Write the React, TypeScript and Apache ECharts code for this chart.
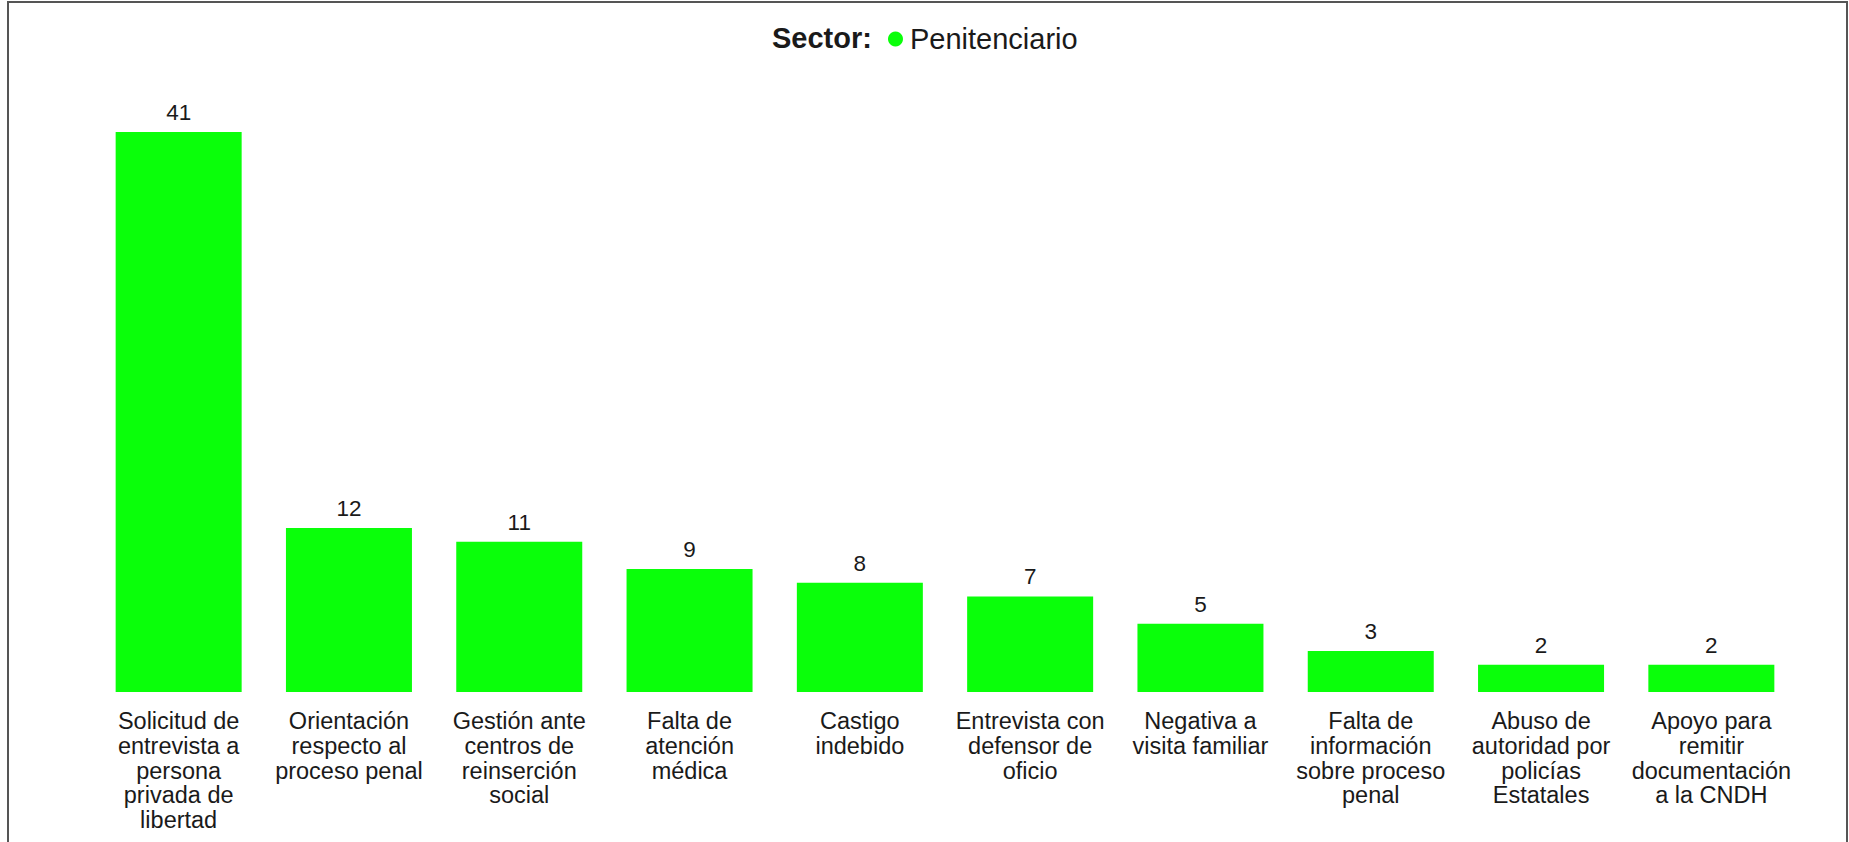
import React, { useEffect, useRef } from "react";
import * as echarts from "echarts";

const categories: string[] = [
  "Solicitud de\nentrevista a\npersona\nprivada de\nlibertad",
  "Orientación\nrespecto al\nproceso penal",
  "Gestión ante\ncentros de\nreinserción\nsocial",
  "Falta de\natención\nmédica",
  "Castigo\nindebido",
  "Entrevista con\ndefensor de\noficio",
  "Negativa a\nvisita familiar",
  "Falta de\ninformación\nsobre proceso\npenal",
  "Abuso de\nautoridad por\npolicías\nEstatales",
  "Apoyo para\nremitir\ndocumentación\na la CNDH",
];

const values: number[] = [41, 12, 11, 9, 8, 7, 5, 3, 2, 2];

const seriesName = "Penitenciario";
const legendTitle = "Sector:";

const FONT = "'Liberation Sans', Arial, Helvetica, sans-serif";
const GREEN = "#0aff0a";
const TEXT = "#1a1a1a";

export default function App() {
  const ref = useRef<HTMLDivElement>(null);

  useEffect(() => {
    if (!ref.current) return;
    const chart = echarts.init(ref.current, undefined, { renderer: "svg" });
    chart.setOption({
      animation: false,
      backgroundColor: "transparent",
      textStyle: { fontFamily: FONT, color: TEXT },
      title: {
        text: legendTitle,
        left: 772,
        top: 23,
        padding: 0,
        textStyle: {
          fontFamily: FONT,
          fontWeight: "bold",
          fontSize: 29,
          color: TEXT,
          lineHeight: 30,
        },
      },
      legend: {
        data: [seriesName],
        left: 883,
        top: 19,
        icon: "circle",
        itemWidth: 15,
        itemHeight: 15,
        itemGap: 10,
        textStyle: {
          fontFamily: FONT,
          fontSize: 29,
          color: TEXT,
          lineHeight: 30,
          padding: [0, 0, 0, 2],
        },
      },
      grid: {
        left: 93.5,
        right: 52.5,
        top: 132,
        bottom: 150,
        containLabel: false,
        outerBoundsMode: "none",
      },
      xAxis: {
        type: "category",
        data: categories,
        axisLine: { show: false },
        axisTick: { show: false },
        splitLine: { show: false },
        axisLabel: {
          interval: 0,
          margin: 17,
          fontFamily: FONT,
          fontSize: 23.5,
          lineHeight: 24.7,
          color: TEXT,
          align: "center",
        },
      },
      yAxis: {
        type: "value",
        min: 0,
        max: 41,
        show: false,
        splitLine: { show: false },
      },
      series: [
        {
          name: seriesName,
          type: "bar",
          data: values,
          barWidth: 126,
          itemStyle: { color: GREEN },
          label: {
            show: true,
            position: "top",
            distance: 8,
            fontFamily: FONT,
            fontSize: 22.5,
            color: TEXT,
          },
        },
      ],
    });
    return () => {
      chart.dispose();
    };
  }, []);

  return (
    <div
      style={{
        position: "fixed",
        left: 0,
        top: 0,
        width: 1849,
        height: 842,
        background: "#ffffff",
        overflow: "hidden",
      }}
    >
      <div
        style={{
          position: "absolute",
          left: 7,
          top: 1,
          width: 1841,
          height: 900,
          border: "2px solid #555555",
          boxSizing: "border-box",
        }}
      />
      <div
        ref={ref}
        style={{ position: "absolute", left: 0, top: 0, width: 1849, height: 842 }}
      />
    </div>
  );
}
